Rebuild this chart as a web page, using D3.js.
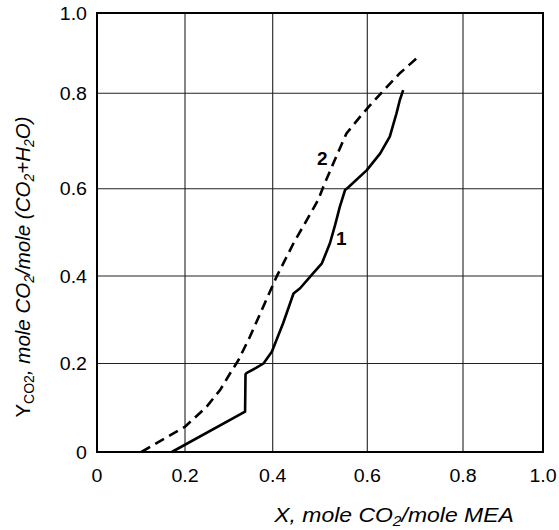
<!DOCTYPE html>
<html>
<head>
<meta charset="utf-8">
<script src="https://cdn.jsdelivr.net/npm/d3@7"></script>
<style>
  body { margin: 0; background: #fff; }
  text { font-family: Arial, "Liberation Sans", sans-serif; fill: #000; }
</style>
</head>
<body>
<svg id="chart" width="559" height="530"></svg>
<script>
// tick values
var xTicks = [0, 0.2, 0.4, 0.6, 0.8, 1.0];
var yTicks = [0, 0.2, 0.4, 0.6, 0.8, 1.0];
var xTickLabels = ['0', '0.2', '0.4', '0.6', '0.8', '1.0'];
var yTickLabels = ['0', '0.2', '0.4', '0.6', '0.8', '1.0'];

// curve 1 (solid)
var curve1X = [0.170, 0.337, 0.338, 0.341, 0.362, 0.379, 0.398, 0.422, 0.444, 0.458, 0.482, 0.504, 0.521, 0.532, 0.542, 0.553, 0.560, 0.599, 0.627, 0.647, 0.661, 0.668, 0.675];
var curve1Y = [0.000, 0.091, 0.176, 0.179, 0.190, 0.200, 0.227, 0.292, 0.360, 0.372, 0.402, 0.429, 0.475, 0.517, 0.559, 0.597, 0.603, 0.639, 0.674, 0.709, 0.758, 0.786, 0.808];

// curve 2 (dashed)
var curve2X = [0.101, 0.200, 0.249, 0.280, 0.303, 0.322, 0.348, 0.408, 0.444, 0.472, 0.496, 0.507, 0.528, 0.556, 0.585, 0.606, 0.634, 0.668, 0.703];
var curve2Y = [0.000, 0.057, 0.102, 0.140, 0.178, 0.208, 0.261, 0.398, 0.475, 0.528, 0.574, 0.604, 0.653, 0.716, 0.751, 0.775, 0.807, 0.850, 0.887];

var curveLabels = ['1', '2'];
var curveLabelPos = [[0.545, 0.47], [0.505, 0.65]];

var svg = d3.select('#chart');

// grid in the source is slightly uneven, so use piecewise linear scales
var x = d3.scaleLinear().domain(xTicks).range([97, 185, 272.7, 367.3, 463, 543]);
var y = d3.scaleLinear().domain(yTicks).range([452, 363.5, 276, 188.7, 93.3, 13]);

var g = svg.append('g');

// grid lines
g.selectAll('.vgrid')
  .data(xTicks.slice(1, -1))
  .enter().append('line')
  .attr('x1', function (d) { return x(d); })
  .attr('x2', function (d) { return x(d); })
  .attr('y1', y(0)).attr('y2', y(1))
  .attr('stroke', '#222').attr('stroke-width', 1.1);

g.selectAll('.hgrid')
  .data(yTicks.slice(1, -1))
  .enter().append('line')
  .attr('y1', function (d) { return y(d); })
  .attr('y2', function (d) { return y(d); })
  .attr('x1', x(0)).attr('x2', x(1))
  .attr('stroke', '#222').attr('stroke-width', 1.1);

// frame
g.append('rect')
  .attr('x', x(0)).attr('y', y(1))
  .attr('width', x(1) - x(0)).attr('height', y(0) - y(1))
  .attr('fill', 'none').attr('stroke', '#000').attr('stroke-width', 2);

// tick labels (source text is a bit wide, stretch horizontally)
g.selectAll('.xt')
  .data(xTicks)
  .enter().append('text')
  .attr('transform', function (d) { return 'translate(' + x(d) + ',482) scale(1.12,1)'; })
  .attr('text-anchor', 'middle')
  .style('font-size', '17.5px')
  .text(function (d, i) { return xTickLabels[i]; });

g.selectAll('.yt')
  .data(yTicks)
  .enter().append('text')
  .attr('transform', function (d) { return 'translate(87,' + (y(d) + 6.5) + ') scale(1.12,1)'; })
  .attr('text-anchor', 'end')
  .style('font-size', '17.5px')
  .text(function (d, i) { return yTickLabels[i]; });

// curves
var line = d3.line()
  .x(function (d) { return x(d[0]); })
  .y(function (d) { return y(d[1]); });

g.append('path')
  .datum(d3.zip(curve1X, curve1Y))
  .attr('d', line)
  .attr('fill', 'none').attr('stroke', '#000')
  .attr('stroke-width', 2.6).attr('stroke-linejoin', 'round');

g.append('path')
  .datum(d3.zip(curve2X, curve2Y))
  .attr('d', line)
  .attr('fill', 'none').attr('stroke', '#000')
  .attr('stroke-width', 2.6)
  .attr('stroke-dasharray', '10,6');

g.selectAll('.clabel')
  .data(curveLabels)
  .enter().append('text')
  .attr('x', function (d, i) { return x(curveLabelPos[i][0]); })
  .attr('y', function (d, i) { return y(curveLabelPos[i][1]); })
  .attr('text-anchor', 'middle')
  .style('font-size', '19px').style('font-weight', 'bold')
  .text(function (d) { return d; });

// axis titles: [text, subscript?, italic?]
function addParts(sel, parts) {
  var low = false;
  parts.forEach(function (p) {
    var t = sel.append('tspan').text(p[0])
      .style('font-style', p[2] ? 'italic' : 'normal');
    if (p[1]) {
      t.style('font-size', '14px');
      if (!low) t.attr('dy', 3.5);
      low = true;
    } else {
      if (low) t.attr('dy', -3.5);
      low = false;
    }
  });
}

var xt = svg.append('text')
  .attr('transform', 'translate(394,522) scale(1.12,1)')
  .attr('text-anchor', 'middle')
  .style('font-size', '20.5px');
addParts(xt, [['X, mole CO', false, true], ['2', true, true], ['/mole MEA', false, true]]);

var yt = svg.append('text')
  .attr('transform', 'translate(30,267) rotate(-90)')
  .attr('text-anchor', 'middle')
  .style('font-size', '20.5px');
addParts(yt, [['Y', false, false], ['CO2', true, false], [', mole CO', false, true], ['2', true, true],
  ['/mole (CO', false, true], ['2', true, true], ['+H', false, true], ['2', true, true], ['O)', false, true]]);
</script>
</body>
</html>
